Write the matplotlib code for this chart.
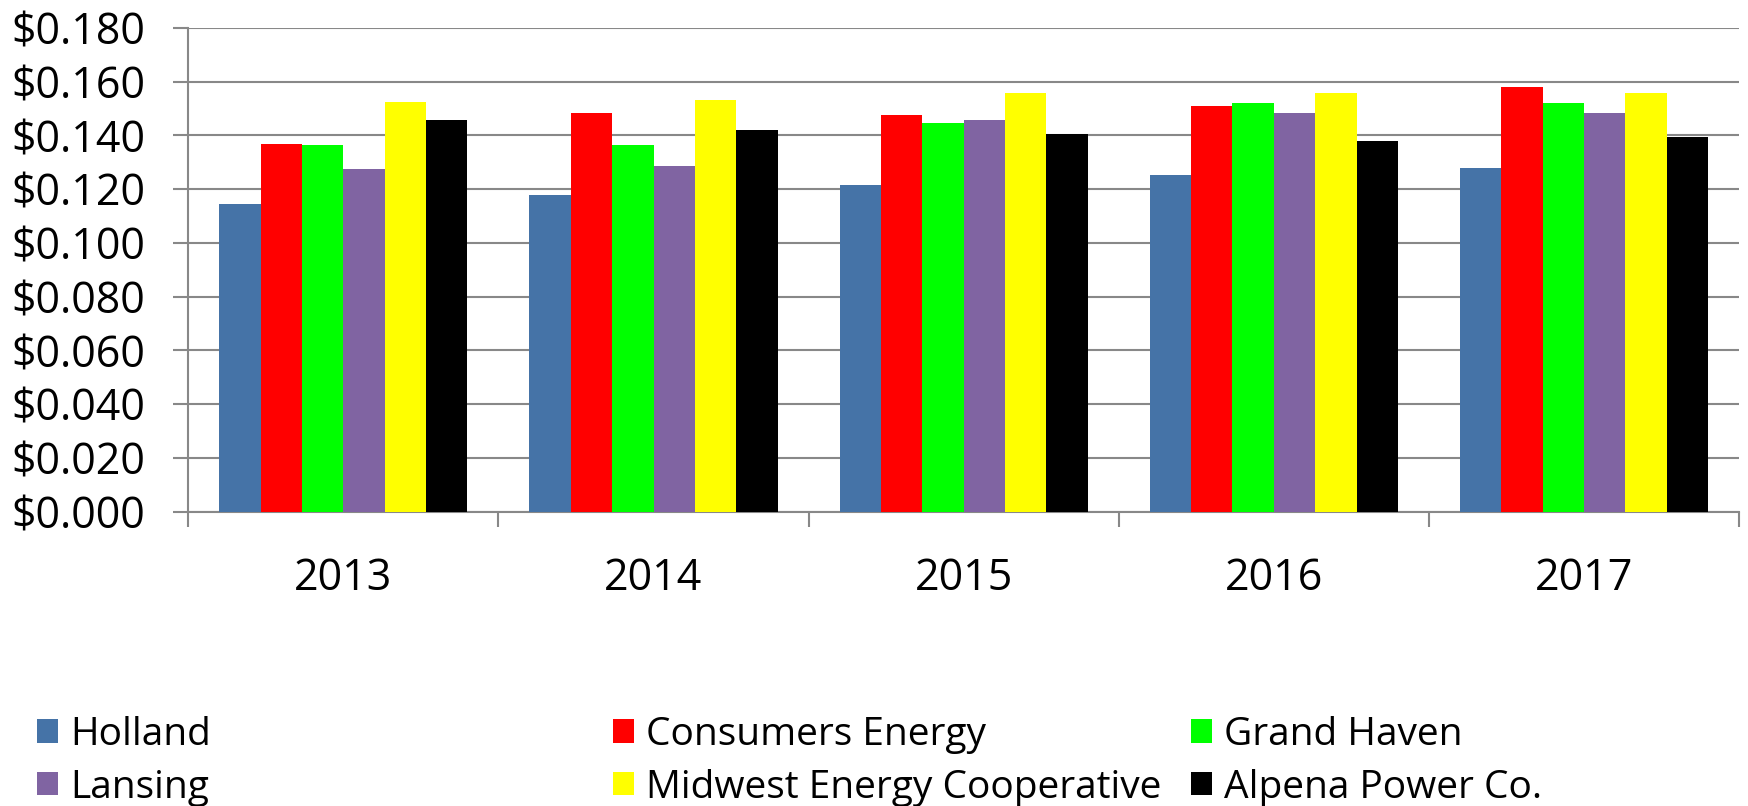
import matplotlib
matplotlib.use("Agg")
import matplotlib.pyplot as plt
import numpy as np
from matplotlib.ticker import FuncFormatter

years = ['2013', '2014', '2015', '2016', '2017']
utilities = ['Holland', 'Consumers Energy', 'Grand Haven',
             'Lansing', 'Midwest Energy Cooperative', 'Alpena Power Co.']
colors = ['#4573A7', '#FF0000', '#00FF00', '#8064A2', '#FFFF00', '#000000']

# rate per kWh
holland = [0.1143, 0.1178, 0.1216, 0.1252, 0.1279]
consumers = [0.1368, 0.1482, 0.1476, 0.1510, 0.1580]
grand_haven = [0.1363, 0.1363, 0.1445, 0.1519, 0.1519]
lansing = [0.1274, 0.1285, 0.1456, 0.1485, 0.1485]
midwest = [0.1526, 0.1530, 0.1556, 0.1556, 0.1556]
alpena = [0.1458, 0.1420, 0.1406, 0.1378, 0.1393]

series = [holland, consumers, grand_haven, lansing, midwest, alpena]

plt.rcParams['font.family'] = ['Open Sans', 'DejaVu Sans']
fs = 31

fig = plt.figure(figsize=(17.48, 8.06), dpi=100)
ax = fig.add_axes([0.1077, 0.3651, 0.8872, 0.6003])

x = np.arange(len(years))
width = 0.8 / len(series)
bars = []
for i, (vals, name, c) in enumerate(zip(series, utilities, colors)):
    b = ax.bar(x + (i - 2.5) * width, vals, width, color=c, label=name,
               zorder=3, linewidth=0)
    bars.append(b)

grey = '#888888'
ax.set_xlim(-0.5, len(years) - 0.5)
ax.set_ylim(0, 0.18)
ax.set_yticks(np.arange(0, 0.181, 0.02))
ax.yaxis.set_major_formatter(FuncFormatter(lambda v, p: '${:.3f}'.format(v)))
ax.yaxis.grid(True, color=grey, linewidth=1.5, zorder=0)

ax.set_xticks(x)
ax.set_xticklabels(years)
ax.set_xticks(np.arange(-0.5, len(years)), minor=True)
ax.tick_params(axis='x', which='major', length=0, pad=32, labelsize=fs)
ax.tick_params(axis='x', which='minor', length=11, width=1.5, color=grey)
ax.tick_params(axis='y', length=11, width=1.5, color=grey, pad=20, labelsize=fs)

for s in ['top', 'right']:
    ax.spines[s].set_visible(False)
for s in ['left', 'bottom']:
    ax.spines[s].set_color(grey)
    ax.spines[s].set_linewidth(1.5)

# legend: three columns, placed one by one
cols = [(0, 3), (1, 4), (2, 5)]
xs = [0.0212, 0.3507, 0.6814]
for (a, b), xpos in zip(cols, xs):
    fig.legend([bars[a], bars[b]], [utilities[a], utilities[b]],
               loc='upper left', bbox_to_anchor=(xpos, 0.112),
               frameon=False, fontsize=28, handlelength=0.55,
               handleheight=0.55, handletextpad=0.3, labelspacing=0.38,
               borderaxespad=0, borderpad=0)

fig.savefig('out.png', dpi=100)
